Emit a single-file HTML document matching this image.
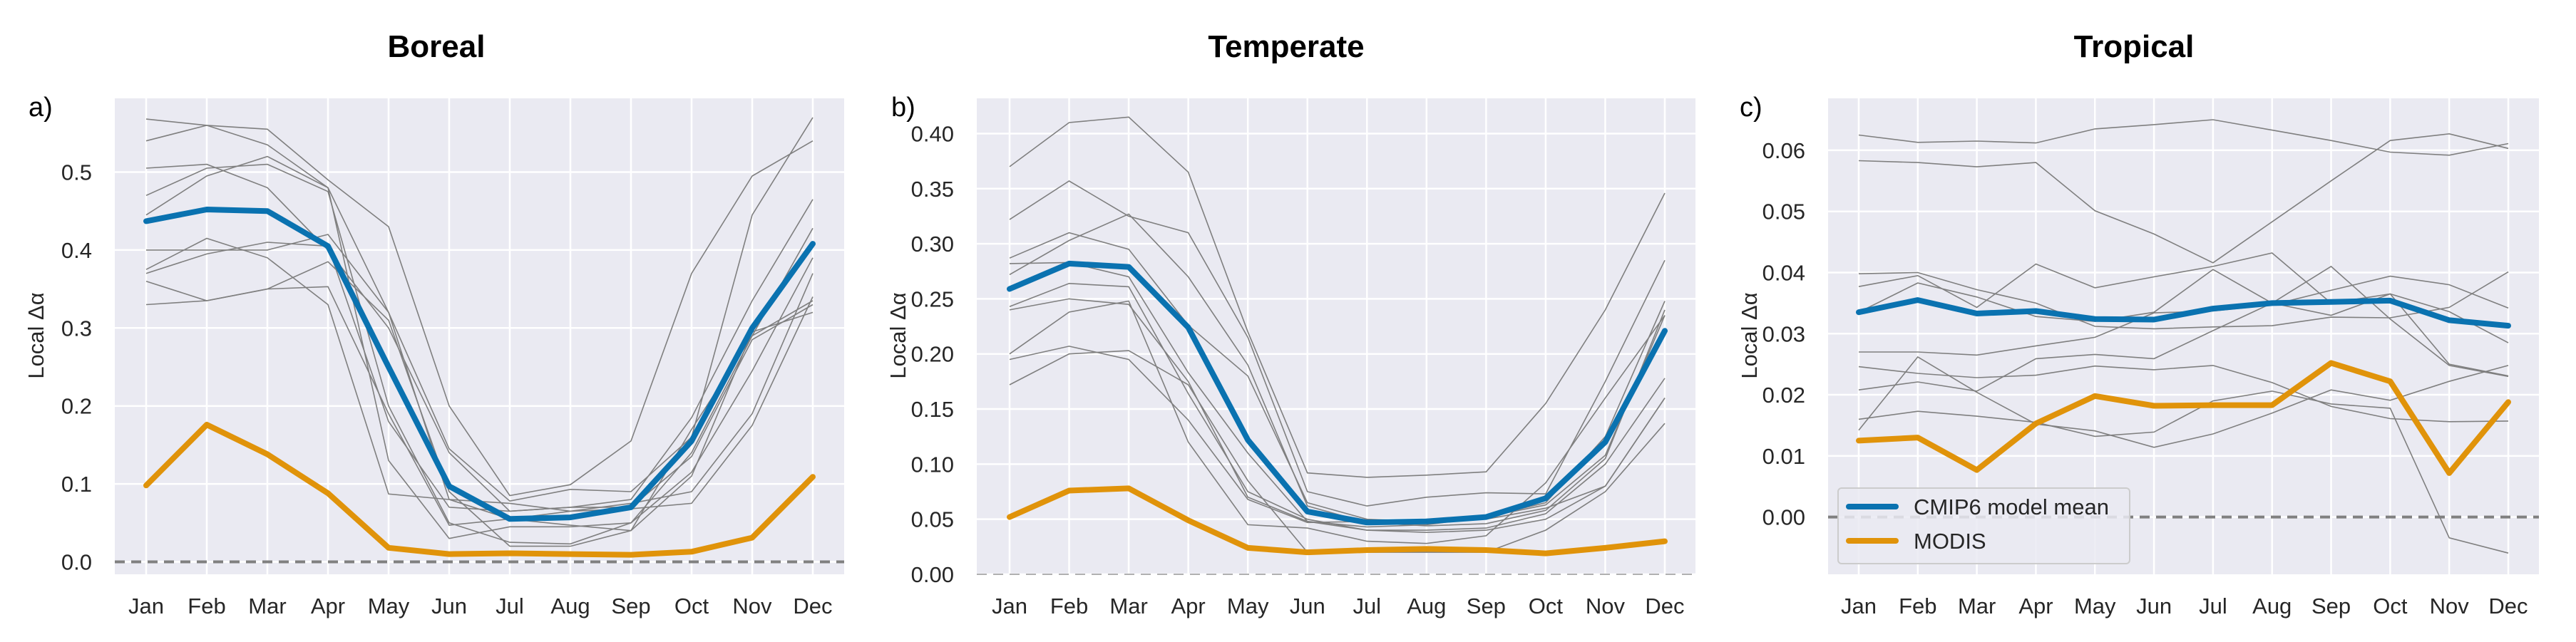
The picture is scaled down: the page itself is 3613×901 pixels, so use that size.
<!DOCTYPE html>
<html><head><meta charset="utf-8">
<style>
html,body{margin:0;padding:0;background:#fff;overflow:hidden;}
svg{display:block;}
text{font-family:"Liberation Sans",Arial,sans-serif;}
.title{font-family:"Liberation Sans",sans-serif;font-weight:bold;font-size:44px;}
</style></head>
<body>
<svg id="fig" xmlns="http://www.w3.org/2000/svg" width="3613" height="901" viewBox="0 0 3613 901"></svg>
<script>
const months = ["Jan","Feb","Mar","Apr","May","Jun","Jul","Aug","Sep","Oct","Nov","Dec"];

const borealMean = [0.437,0.452,0.450,0.405,0.25,0.097,0.055,0.057,0.070,0.155,0.30,0.408];
const borealModis = [0.098,0.176,0.138,0.088,0.018,0.010,0.011,0.010,0.009,0.013,0.031,0.109];
const borealModels = [
[0.568,0.560,0.555,0.490,0.430,0.200,0.085,0.099,0.155,0.370,0.495,0.540],
[0.540,0.560,0.535,0.480,0.320,0.145,0.078,0.093,0.090,0.160,0.445,0.570],
[0.505,0.510,0.480,0.400,0.300,0.140,0.065,0.070,0.080,0.185,0.335,0.465],
[0.470,0.505,0.510,0.475,0.200,0.050,0.025,0.023,0.050,0.140,0.290,0.428],
[0.445,0.495,0.520,0.480,0.130,0.030,0.045,0.045,0.050,0.115,0.245,0.390],
[0.400,0.400,0.400,0.420,0.320,0.080,0.055,0.065,0.075,0.090,0.190,0.370],
[0.375,0.415,0.390,0.330,0.087,0.080,0.075,0.065,0.068,0.075,0.175,0.340],
[0.370,0.395,0.410,0.405,0.180,0.070,0.065,0.070,0.070,0.135,0.285,0.330],
[0.360,0.335,0.350,0.385,0.310,0.090,0.020,0.020,0.040,0.110,0.295,0.320],
[0.330,0.335,0.350,0.353,0.190,0.047,0.055,0.047,0.040,0.170,0.290,0.335]];
const borealTicks = [0.0,0.1,0.2,0.3,0.4,0.5];
const borealTickLabels = ["0.0","0.1","0.2","0.3","0.4","0.5"];

const temperateMean = [0.259,0.282,0.279,0.224,0.122,0.057,0.047,0.048,0.052,0.069,0.120,0.221];
const temperateModis = [0.052,0.076,0.078,0.049,0.024,0.020,0.022,0.023,0.022,0.019,0.024,0.030];
const temperateModels = [
[0.370,0.410,0.415,0.365,0.220,0.092,0.088,0.090,0.093,0.155,0.240,0.346],
[0.322,0.357,0.325,0.310,0.215,0.075,0.062,0.070,0.074,0.073,0.175,0.285],
[0.287,0.310,0.295,0.226,0.180,0.065,0.050,0.048,0.052,0.065,0.125,0.248],
[0.272,0.303,0.327,0.270,0.190,0.062,0.047,0.044,0.046,0.058,0.105,0.240],
[0.282,0.283,0.270,0.183,0.110,0.048,0.043,0.045,0.052,0.063,0.108,0.235],
[0.243,0.264,0.261,0.164,0.075,0.050,0.040,0.038,0.040,0.050,0.080,0.160],
[0.240,0.250,0.245,0.175,0.070,0.048,0.040,0.040,0.042,0.055,0.100,0.178],
[0.200,0.238,0.248,0.120,0.045,0.042,0.030,0.028,0.035,0.083,0.160,0.235],
[0.195,0.207,0.195,0.140,0.068,0.047,0.048,0.050,0.050,0.060,0.080,0.160],
[0.172,0.200,0.203,0.172,0.085,0.020,0.020,0.020,0.020,0.040,0.075,0.137]];
const temperateTicks = [0,0.05,0.10,0.15,0.20,0.25,0.30,0.35,0.40];
const temperateTickLabels = ["0.00","0.05","0.10","0.15","0.20","0.25","0.30","0.35","0.40"];

const tropicalMean = [0.0335,0.0355,0.0333,0.0337,0.0324,0.0323,0.0341,0.0350,0.0352,0.0354,0.0322,0.0313];
const tropicalModis = [0.0125,0.0130,0.0077,0.0153,0.0198,0.0182,0.0183,0.0183,0.0252,0.0222,0.0072,0.0188];
const tropicalModels = [
[0.0625,0.0613,0.0615,0.0612,0.0635,0.0642,0.0650,0.0633,0.0616,0.0597,0.0592,0.0611],
[0.0583,0.0580,0.0573,0.0580,0.0501,0.0463,0.0416,0.0483,0.0550,0.0616,0.0627,0.0603],
[0.0398,0.0400,0.0372,0.0350,0.0312,0.0308,0.0311,0.0313,0.0327,0.0326,0.0343,0.0401],
[0.0377,0.0395,0.0343,0.0414,0.0375,0.0393,0.0410,0.0432,0.0350,0.0365,0.0250,0.0231],
[0.0335,0.0383,0.0360,0.0328,0.0320,0.0335,0.0405,0.0350,0.0330,0.0365,0.0336,0.0285],
[0.0270,0.0270,0.0265,0.0280,0.0294,0.0334,0.0337,0.0347,0.0371,0.0394,0.0380,0.0342],
[0.0246,0.0235,0.0228,0.0232,0.0247,0.0241,0.0248,0.0220,0.0181,0.0161,0.0156,0.0157],
[0.0208,0.0221,0.0206,0.0259,0.0266,0.0259,0.0305,0.0350,0.0410,0.0324,0.0248,0.0230],
[0.0160,0.0173,0.0165,0.0155,0.0132,0.0139,0.0190,0.0206,0.0185,0.0178,-0.0034,-0.0059],
[0.0142,0.0262,0.0204,0.0152,0.0141,0.0114,0.0136,0.0170,0.0208,0.0191,0.0222,0.0248]];
const tropicalTicks = [0,0.01,0.02,0.03,0.04,0.05,0.06];
const tropicalTickLabels = ["0.00","0.01","0.02","0.03","0.04","0.05","0.06"];

const NS = "http://www.w3.org/2000/svg";
const svg = document.getElementById("fig");
function mk(tag, attrs, parent){
  const e = document.createElementNS(NS, tag);
  for (const k in attrs) e.setAttribute(k, attrs[k]);
  (parent||svg).appendChild(e);
  return e;
}

const TOP = 138, BOTTOM = 806;

function panel(cfg){
  const g = mk("g", {});
  
  
  const xs = i => cfg.x0 + (cfg.x1 - cfg.x0) * i / 11;
  const ys = v => TOP + (cfg.ymax - v) / (cfg.ymax - cfg.ymin) * (BOTTOM - TOP);
  const bg = mk("rect", {x:cfg.left, y:TOP, width:cfg.right-cfg.left, height:BOTTOM-TOP, fill:"#eaeaf2"}, g);
  
  
  cfg.ticks.forEach((t, i) => {
    const y = ys(t);
    const gl = mk("line", {x1:cfg.left, x2:cfg.right, y1:y, y2:y, stroke:"#fff", "stroke-width":2.5}, g);
    
    
    const tl = mk("text", {x:cfg.left - 32, y:y + 11, "text-anchor":"end", "font-size":31, fill:"#262626"}, g);
    
    
    tl.textContent = cfg.tickLabels[i];
  });
  months.forEach((m, i) => {
    const x = xs(i);
    const gl = mk("line", {x1:x, x2:x, y1:TOP, y2:BOTTOM, stroke:"#fff", "stroke-width":2.5}, g);
    
    
    const tl = mk("text", {x:x, y:861, "text-anchor":"middle", "font-size":31, fill:"#262626"}, g);
    
    
    tl.textContent = m;
  });
  const zl = mk("line", {x1:cfg.left, x2:cfg.right, y1:ys(0), y2:ys(0), stroke:cfg.zeroColor, "stroke-width":cfg.zeroWidth, "stroke-dasharray":"14,9"}, g);
  
  
  const pts = arr => arr.map((v, i) => xs(i).toFixed(1) + "," + ys(v).toFixed(1)).join(" ");
  cfg.models.forEach(arr => {
    const p = mk("polyline", {points:pts(arr), fill:"none", stroke:"#7f7f7f", "stroke-width":1.6}, g);
    
    
  });
  const mo = mk("polyline", {points:pts(cfg.modis), fill:"none", stroke:"#e0930a", "stroke-width":8, "stroke-linejoin":"round", "stroke-linecap":"round"}, g);
  
  
  const me = mk("polyline", {points:pts(cfg.mean), fill:"none", stroke:"#0a72b0", "stroke-width":8, "stroke-linejoin":"round", "stroke-linecap":"round"}, g);
  
  
  const ti = mk("text", {x:cfg.titleX, y:80, "text-anchor":"middle", "class":"title", fill:"#000"}, g);
  
  
  ti.textContent = cfg.title;
  const lb = mk("text", {x:cfg.labelX, y:163, "font-size":38, fill:"#000"}, g);
  
  
  lb.textContent = cfg.letter;
  const yl = mk("text", {x:0, y:0, "text-anchor":"middle", "font-size":31, fill:"#262626", transform:"translate(" + (cfg.left - 100) + ",471) rotate(-90)"}, g);
  
  
  yl.textContent = "Local Δα";
  return {g, xs, ys};
}

panel({name:"boreal", title:"Boreal", letter:"a)", titleX:612, labelX:40,
  left:161, right:1184, x0:205, x1:1140,
  ymin:-0.016, ymax:0.5946, ticks:borealTicks, tickLabels:borealTickLabels,
  models:borealModels, mean:borealMean, modis:borealModis, zeroColor:"#808080", zeroWidth:4});
panel({name:"temperate", title:"Temperate", letter:"b)", titleX:1804, labelX:1250,
  left:1370, right:2378, x0:1416, x1:2335,
  ymin:0, ymax:0.432, ticks:temperateTicks, tickLabels:temperateTickLabels,
  models:temperateModels, mean:temperateMean, modis:temperateModis, zeroColor:"#b0b0b0", zeroWidth:2});
panel({name:"tropical", title:"Tropical", letter:"c)", titleX:2993, labelX:2440,
  left:2564, right:3561, x0:2607, x1:3518,
  ymin:-0.00937, ymax:0.0685, ticks:tropicalTicks, tickLabels:tropicalTickLabels,
  models:tropicalModels, mean:tropicalMean, modis:tropicalModis, zeroColor:"#808080", zeroWidth:4});

const lg = mk("g", {});


const lbox = mk("rect", {x:2578, y:685, width:409, height:106, rx:5, fill:"#eaeaf2", "fill-opacity":0.85, stroke:"#cccccc", "stroke-width":2}, lg);


const legendItems = [["CMIP6 model mean","#0a72b0",711],["MODIS","#e0930a",759]];
legendItems.forEach(it => {
  const l = mk("line", {x1:2593, x2:2659, y1:it[2], y2:it[2], stroke:it[1], "stroke-width":8, "stroke-linecap":"round"}, lg);
  
  
  const t = mk("text", {x:2684, y:it[2] + 11, "font-size":31, fill:"#262626"}, lg);
  
  
  t.textContent = it[0];
});
</script>
</body></html>
